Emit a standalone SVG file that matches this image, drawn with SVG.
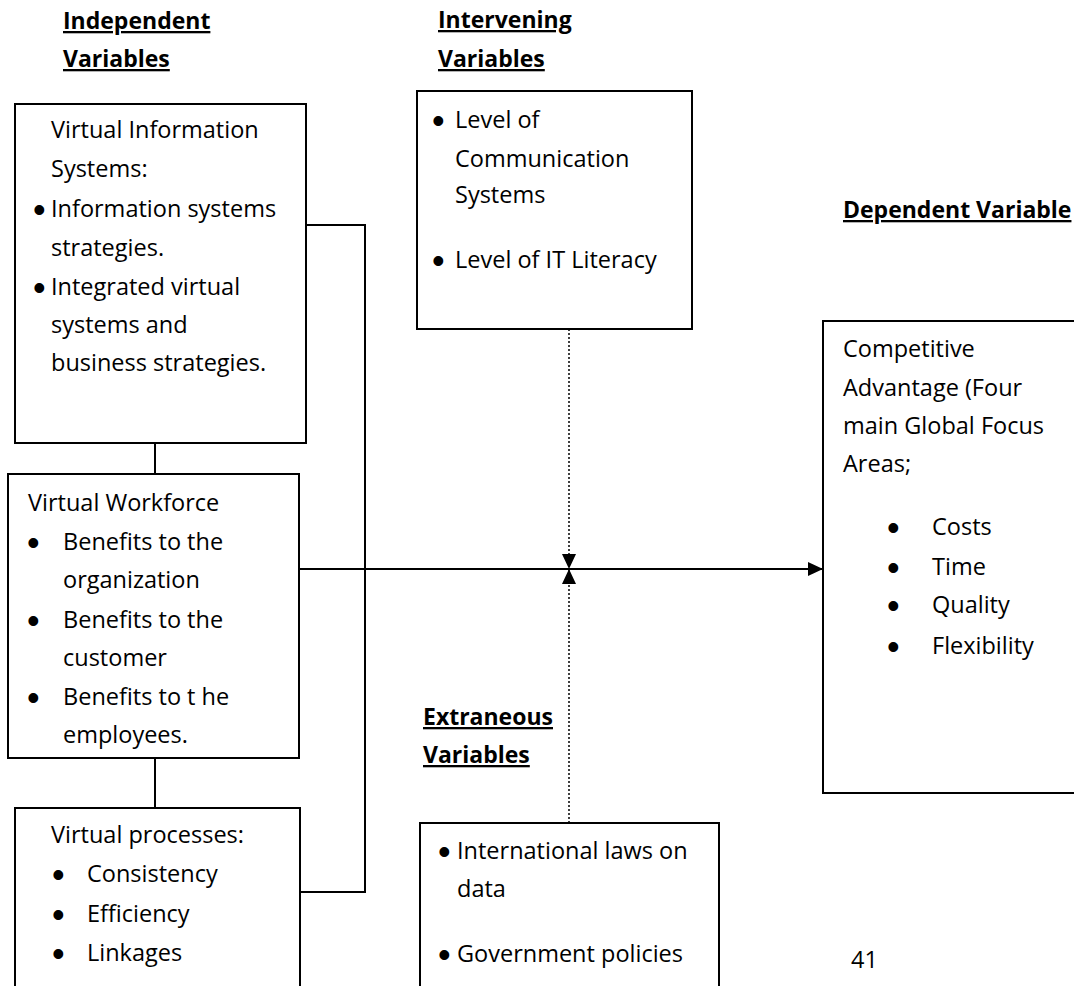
<svg xmlns="http://www.w3.org/2000/svg" width="1074" height="986" viewBox="0 0 1074 986">
<defs>
<style>
text{font-family:"Open Sans","DejaVu Sans",sans-serif;font-size:23.5px;fill:#000}
.h{font-weight:bold;font-size:23px;text-decoration:underline}
.b{font-family:"Liberation Sans",Arial,sans-serif;font-size:36px}
.box{fill:#fff;stroke:#000;stroke-width:2}
.ln{fill:none;stroke:#000;stroke-width:2}
.dot{fill:none;stroke:#000;stroke-width:1.5;stroke-dasharray:2 2}
</style>
<marker id="ah" markerUnits="userSpaceOnUse" markerWidth="16" markerHeight="16" viewBox="0 0 16 16" refX="15" refY="8" orient="auto">
<path d="M0,1 L15,8 L0,15 Z" fill="#000"/>
</marker>
</defs>
<rect width="1074" height="986" fill="#fff"/>

<g id="headings">
<text class="h" x="63" y="29">Independent</text>
<text class="h" x="63" y="67">Variables</text>
<text class="h" x="438" y="28">Intervening</text>
<text class="h" x="438" y="67">Variables</text>
<text class="h" x="843" y="218">Dependent Variable</text>
<text class="h" x="423" y="725">Extraneous</text>
<text class="h" x="423" y="763">Variables</text>
</g>

<g id="connectors">
<path class="ln" d="M306,225 H365 V892 H300"/>
<path class="ln" d="M155,443 V488"/>
<path class="ln" d="M155,758 V808"/>
<path class="ln" d="M299,569 H823" marker-end="url(#ah)"/>
<path class="dot" d="M569,329 V569" marker-end="url(#ah)"/>
<path class="dot" d="M569,823 V569" marker-end="url(#ah)"/>
</g>

<g id="virtual-information-systems">
<rect class="box" x="15" y="104" width="291" height="339"/>
<text x="51" y="138">Virtual Information</text>
<text x="51" y="177">Systems:</text>
<text class="b" x="33" y="222">•</text>
<text x="51" y="217">Information systems</text>
<text x="51" y="256">strategies.</text>
<text class="b" x="33" y="300">•</text>
<text x="51" y="295">Integrated virtual</text>
<text x="51" y="333">systems and</text>
<text x="51" y="371">business strategies.</text>
</g>

<g id="virtual-workforce">
<rect class="box" x="8" y="474" width="291" height="284"/>
<text x="28" y="511">Virtual Workforce</text>
<text class="b" x="27" y="555">•</text>
<text x="63" y="550">Benefits to the</text>
<text x="63" y="588">organization</text>
<text class="b" x="27" y="633">•</text>
<text x="63" y="628">Benefits to the</text>
<text x="63" y="666">customer</text>
<text class="b" x="27" y="710">•</text>
<text x="63" y="705">Benefits to t he</text>
<text x="63" y="743">employees.</text>
</g>

<g id="virtual-processes">
<rect class="box" x="15" y="808" width="285" height="200"/>
<text x="51" y="843">Virtual processes:</text>
<text class="b" x="52" y="887">•</text>
<text x="87" y="882">Consistency</text>
<text class="b" x="52" y="927">•</text>
<text x="87" y="922">Efficiency</text>
<text class="b" x="52" y="966">•</text>
<text x="87" y="961">Linkages</text>
</g>

<g id="intervening-variables">
<rect class="box" x="417" y="91" width="275" height="238"/>
<text class="b" x="432" y="133">•</text>
<text x="455" y="128">Level of</text>
<text x="455" y="167">Communication</text>
<text x="455" y="203">Systems</text>
<text class="b" x="432" y="273">•</text>
<text x="455" y="268">Level of IT Literacy</text>
</g>

<g id="competitive-advantage">
<rect class="box" x="823" y="321" width="270" height="472"/>
<text x="843" y="357">Competitive</text>
<text x="843" y="396">Advantage (Four</text>
<text x="843" y="434">main Global Focus</text>
<text x="843" y="472">Areas;</text>
<text class="b" x="887" y="540">•</text>
<text x="932" y="535">Costs</text>
<text class="b" x="887" y="580">•</text>
<text x="932" y="575">Time</text>
<text class="b" x="887" y="618">•</text>
<text x="932" y="613">Quality</text>
<text class="b" x="887" y="659">•</text>
<text x="932" y="654">Flexibility</text>
</g>

<g id="extraneous-variables">
<rect class="box" x="420" y="823" width="299" height="190"/>
<text class="b" x="438" y="864">•</text>
<text x="457" y="859">International laws on</text>
<text x="457" y="897">data</text>
<text class="b" x="438" y="967">•</text>
<text x="457" y="962">Government policies</text>
</g>

<g id="page-number">
<text x="851" y="968">41</text>
</g>
</svg>
